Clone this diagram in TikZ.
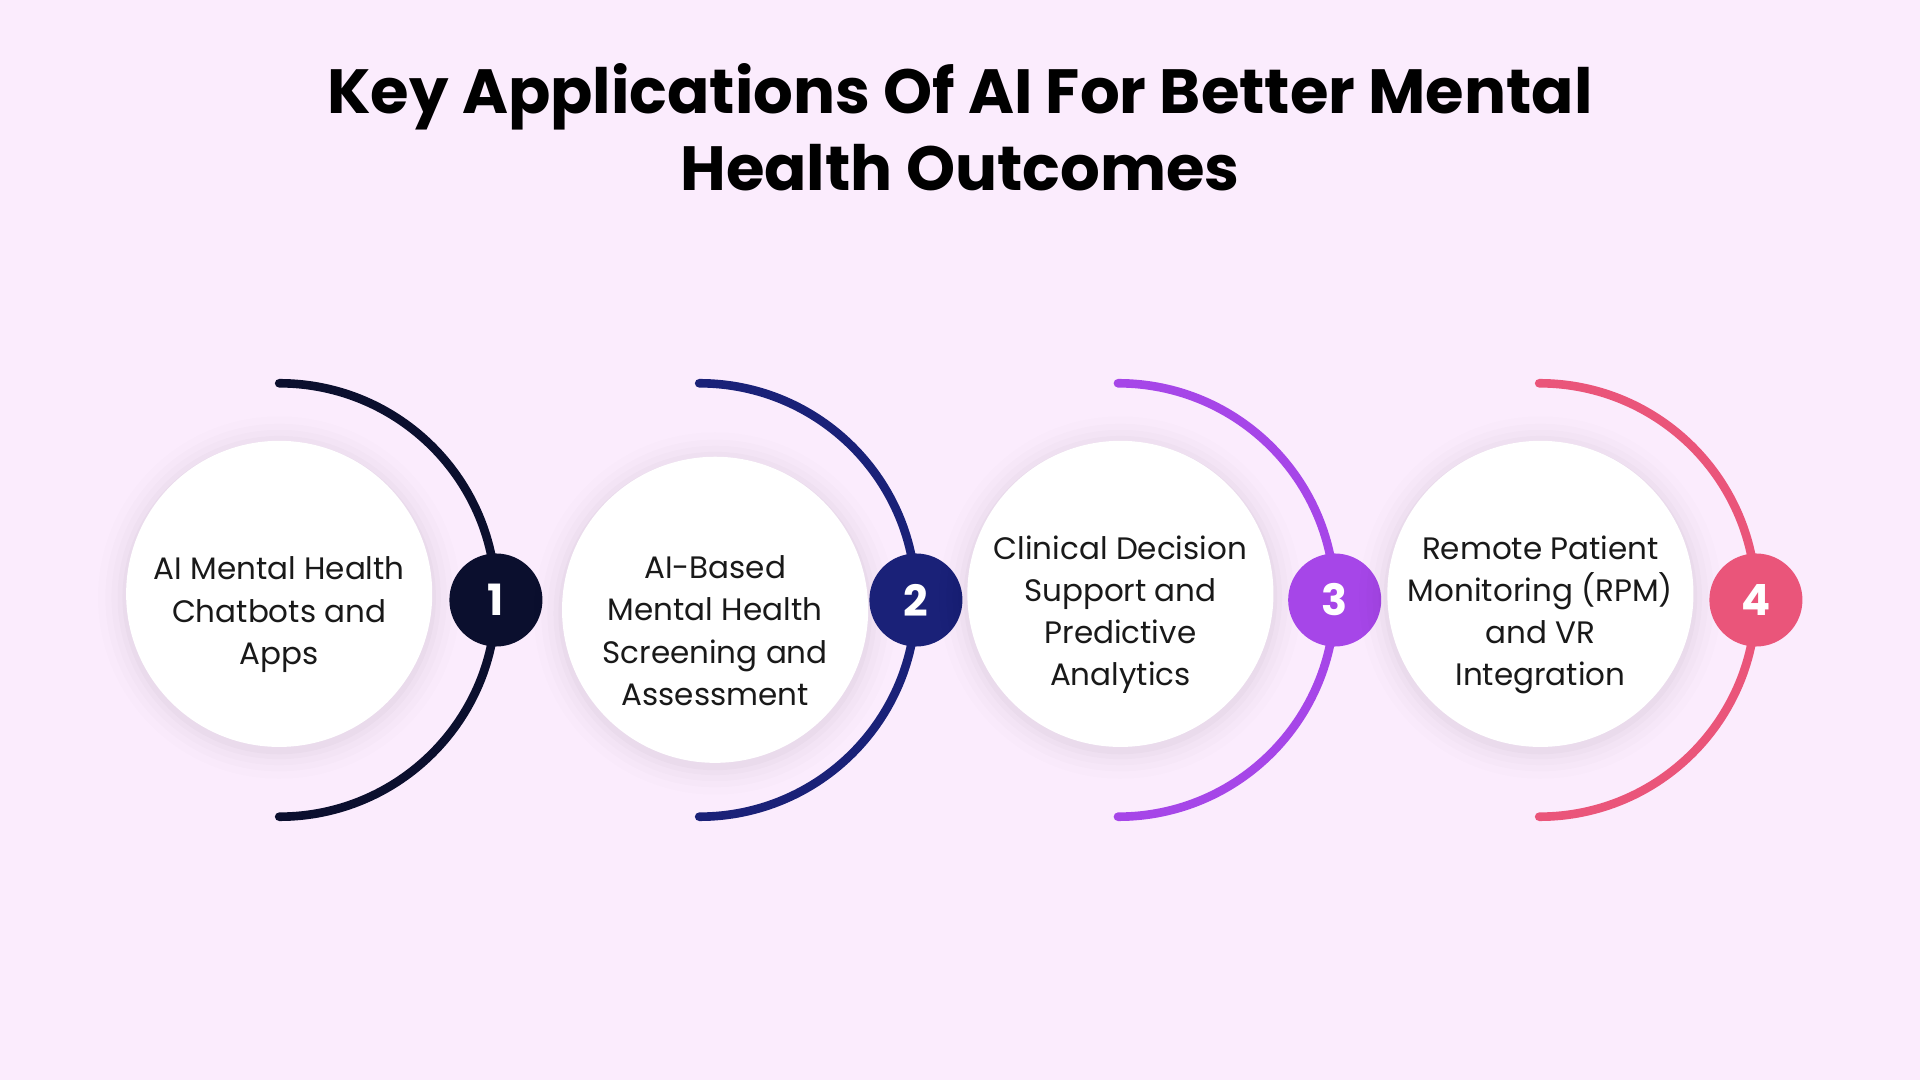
\documentclass[tikz,border=0pt]{standalone}
\usepackage{fontspec}
\setmainfont{Poppins}
\definecolor{bg}{HTML}{FBECFD}
\definecolor{cA}{HTML}{0B0F2E}
\definecolor{cB}{HTML}{1A2178}
\definecolor{cC}{HTML}{A646E8}
\definecolor{cD}{HTML}{EA557A}
\begin{document}
\begin{tikzpicture}[x=0.01cm,y=-0.01cm,
  card/.style={circle,fill=white,minimum size=250*0.01cm,inner sep=0pt},
  cardtext/.style={align=center,inner sep=0pt,font=\fontsize{7.2}{9.8}\selectfont\color{black!90}},
  num/.style={circle,minimum size=76*0.01cm,inner sep=0pt,text=white,font=\fontsize{10}{12}\selectfont\bfseries},
  arcline/.style={line width=2pt,line cap=round}]
\fill[bg] (0,0) rectangle (1568,882);
\useasboundingbox (0,0) rectangle (1568,882);
\node[font=\fontsize{14.5}{18}\selectfont\bfseries,align=center] (title) at (784,104) {Key Applications Of AI For Better Mental\\Health Outcomes};
\foreach \cx/\cy/\ax/\col/\n/\txt in {
  228/485/228/cA/1/{AI Mental Health\\Chatbots and\\Apps},
  584/498/571/cB/2/{AI-Based\\Mental Health\\Screening and\\Assessment},
  915/485/913/cC/3/{Clinical Decision\\Support and\\Predictive\\Analytics},
  1258/485/1257/cD/4/{Remote Patient\\Monitoring (RPM)\\and VR\\Integration}}{
  \foreach \r/\o in {148/0.008,142/0.01,137/0.012,132/0.015,128/0.02}{\fill[black,opacity=\o] (\cx,\cy+3) circle (\r);}
  \node[card] (c\n) at (\cx,\cy) {};
  \node[cardtext] (t\n) at (\cx,\cy+17) {\txt};
  \draw[arcline,\col] (\ax,313) arc[start angle=-90,end angle=90,radius=177] coordinate (e\n);
  \node[num,fill=\col] (n\n) at (\ax+177,490) {\n};
}
\end{tikzpicture}
\end{document}
